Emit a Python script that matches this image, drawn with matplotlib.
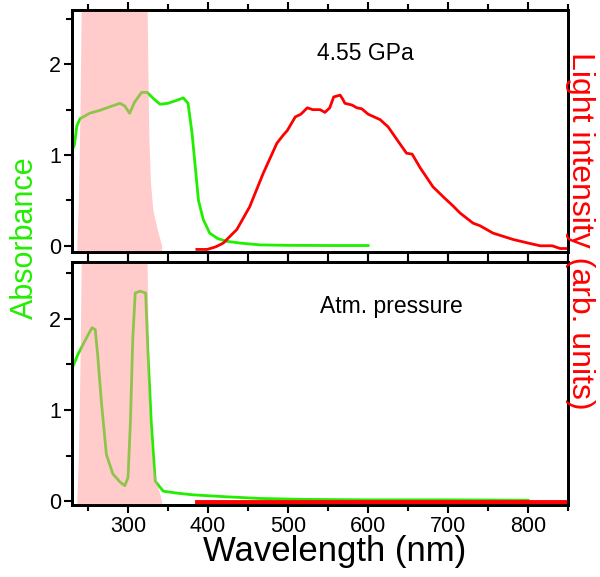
import matplotlib
matplotlib.use('Agg')
import matplotlib.pyplot as plt
from matplotlib.ticker import MultipleLocator

plt.rcParams['font.family'] = ['Liberation Sans', 'DejaVu Sans']

# 吸收谱 4.55 GPa
wl_hp = [230, 233, 236, 240, 246, 252, 264, 280, 290, 296, 302, 308, 317, 324, 332, 340, 350, 360, 369, 375,
         380, 384, 388, 394, 402, 412, 423, 440, 465, 500, 550, 600]
abs_hp = [1.05, 1.11, 1.32, 1.40, 1.43, 1.46, 1.49, 1.54, 1.57, 1.54, 1.46, 1.58, 1.69, 1.69, 1.62, 1.56, 1.57, 1.60, 1.63, 1.57,
          1.24, 0.87, 0.50, 0.29, 0.14, 0.08, 0.05, 0.03, 0.01, 0.005, 0.003, 0.003]

# 吸收谱 常压
wl_atm = [230, 237, 244, 250, 255, 259, 262, 267, 273, 281, 290, 296, 300, 303, 306, 309, 315, 322,
          325, 329, 334, 344, 360, 381, 420, 465, 520, 600, 700, 800]
abs_atm = [1.45, 1.60, 1.72, 1.82, 1.90, 1.88, 1.61, 1.06, 0.51, 0.30, 0.21, 0.17, 0.26, 0.87, 1.79, 2.28, 2.30, 2.28,
           1.61, 0.87, 0.22, 0.11, 0.09, 0.07, 0.05, 0.03, 0.02, 0.015, 0.015, 0.01]

# 光源强度 (arb. units)
wl_light = [386, 399, 410, 419, 436, 452, 469, 486, 494, 499, 509, 516, 524, 531, 540, 546, 552, 557, 565, 568,
            571, 580, 586, 592, 600, 615, 625, 640, 648, 655, 665, 681, 695, 706, 715, 731, 740, 756, 781,
            800, 815, 830, 840, 850]
light_hp = [-0.04, -0.04, -0.01, 0.03, 0.18, 0.43, 0.80, 1.13, 1.22, 1.27, 1.42, 1.45, 1.52, 1.50, 1.50, 1.47, 1.52,
            1.64, 1.66, 1.62, 1.57, 1.55, 1.52, 1.51, 1.45, 1.39, 1.31, 1.12, 1.02, 1.01, 0.86, 0.65, 0.53, 0.44,
            0.36, 0.25, 0.22, 0.14, 0.07, 0.03, 0.0, 0.0, -0.03, -0.03]
wl_light_atm = [386, 500, 600, 700, 800, 850]
light_atm = [-0.01, -0.01, -0.01, -0.01, -0.01, -0.01]

# 滤光片透过区域
wl_filter = [236, 238, 240, 242, 244, 320, 322, 324, 326, 328, 331, 336, 342]
filter_val = [0, 0.5, 1.5, 3.0, 5.0, 5.0, 5.0, 2.5, 1.2, 0.7, 0.4, 0.2, 0]

green = '#22ee00'
red = '#ff0000'

fig = plt.figure(figsize=(6.0, 5.77), dpi=100)
ax1 = fig.add_axes([0.12, 0.563, 0.827, 0.42])
ax2 = fig.add_axes([0.12, 0.125, 0.827, 0.421])


def style_axis(ax, show_xlabels):
    ax.set_xlim(230, 850)
    ax.xaxis.set_major_locator(MultipleLocator(100))
    ax.xaxis.set_minor_locator(MultipleLocator(50))
    ax.yaxis.set_major_locator(MultipleLocator(1))
    ax.yaxis.set_minor_locator(MultipleLocator(0.5))
    ax.tick_params(axis='both', which='major', direction='out', length=6, width=1.5, labelsize=15.5, pad=2)
    ax.tick_params(axis='both', which='minor', direction='out', length=4, width=1.5)
    ax.tick_params(axis='x', which='both', top=True, labelbottom=show_xlabels)
    for s in ax.spines.values():
        s.set_linewidth(2)


panels = [
    (ax1, wl_hp, abs_hp, wl_light, light_hp, '4.55 GPa', (597, 2.12), (-0.07, 2.6), 2),
    (ax2, wl_atm, abs_atm, wl_light_atm, light_atm, 'Atm. pressure', (629, 2.13), (-0.04, 2.62), 3.5),
]
for ax, wl_a, ab, wl_l, li, label, pos, ylim, lw_red in panels:
    ax.plot(wl_a, ab, color=green, lw=2, zorder=2)
    # 滤光片区域半透明覆盖在吸收曲线上
    ax.fill_between(wl_filter, ylim[0], filter_val, color=(1, 0.6, 0.6), alpha=0.5, lw=0, zorder=3)
    ax.set_ylim(*ylim)
    axr = ax.twinx()
    axr.plot(wl_l, li, color=red, lw=lw_red)
    axr.set_ylim(*ylim)
    axr.set_yticks([])
    for s in axr.spines.values():
        s.set_linewidth(2)
    ax.text(pos[0], pos[1], label, fontsize=16.5, ha='center', va='center')

style_axis(ax1, False)
style_axis(ax2, True)

fig.text(0.557, 0.027, 'Wavelength (nm)', fontsize=25, ha='center', va='baseline')
fig.text(0.042, 0.588, 'Absorbance', color=green, fontsize=22, rotation=90, ha='center', va='center')
fig.text(0.966, 0.6, 'Light intensity (arb. units)', color=red, fontsize=23, rotation=-90,
         ha='center', va='center')

plt.savefig('out.png', dpi=100)
plt.close(fig)
